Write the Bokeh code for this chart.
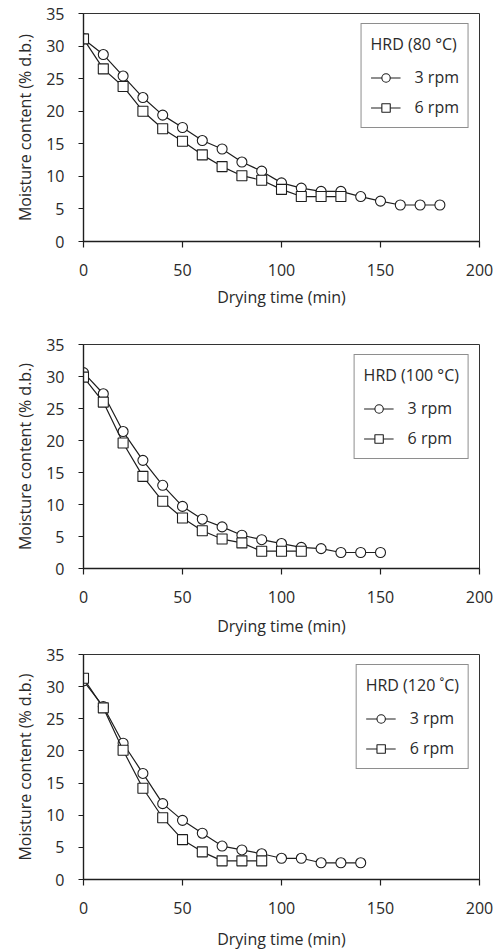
from bokeh.plotting import figure
from bokeh.layouts import column
from bokeh.models import FixedTicker, Range1d, Legend, LegendItem
from bokeh.embed import file_html
from bokeh.resources import INLINE

# ---- data ----
time_80_3 = [0, 10, 20, 30, 40, 50, 60, 70, 80, 90, 100, 110, 120, 130, 140, 150, 160, 170, 180]
mc_80_3 = [31.1, 28.7, 25.4, 22.1, 19.4, 17.5, 15.5, 14.2, 12.2, 10.8, 9.0, 8.2, 7.7, 7.7, 6.9, 6.2, 5.6, 5.6, 5.6]
time_80_6 = [0, 10, 20, 30, 40, 50, 60, 70, 80, 90, 100, 110, 120, 130]
mc_80_6 = [31.1, 26.5, 23.8, 20.0, 17.3, 15.4, 13.3, 11.5, 10.1, 9.4, 8.0, 6.9, 6.9, 6.9]

time_100_3 = [0, 10, 20, 30, 40, 50, 60, 70, 80, 90, 100, 110, 120, 130, 140, 150]
mc_100_3 = [30.6, 27.3, 21.4, 16.9, 13.0, 9.7, 7.7, 6.5, 5.2, 4.5, 3.9, 3.3, 3.1, 2.5, 2.5, 2.5]
time_100_6 = [0, 10, 20, 30, 40, 50, 60, 70, 80, 90, 100, 110]
mc_100_6 = [29.9, 26.0, 19.6, 14.4, 10.5, 7.9, 5.9, 4.6, 4.0, 2.7, 2.7, 2.7]

time_120_3 = [0, 10, 20, 30, 40, 50, 60, 70, 80, 90, 100, 110, 120, 130, 140]
mc_120_3 = [30.9, 26.9, 21.2, 16.5, 11.8, 9.2, 7.2, 5.2, 4.6, 4.0, 3.3, 3.3, 2.6, 2.6, 2.6]
time_120_6 = [0, 10, 20, 30, 40, 50, 60, 70, 80, 90]
mc_120_6 = [31.3, 26.7, 20.1, 14.2, 9.6, 6.2, 4.3, 2.9, 2.9, 2.9]

x_ticks = [0, 50, 100, 150, 200]
y_ticks = [0, 5, 10, 15, 20, 25, 30, 35]
series_labels = ["3 rpm", "6 rpm"]
titles = ["HRD (80 °C)", "HRD (100 °C)", "HRD (120 ˚C)"]
x_label = "Drying time (min)"
y_label = "Moisture content (% d.b.)"

FONT = "Open Sans"
FS = "16px"
INK = "#1e1e1e"


def make_panel(title, t3, m3, t6, m6, height, b_left, b_right, b_top, b_bottom, xlab_standoff):
    p = figure(width=504, height=height, output_backend="svg", toolbar_location=None,
               x_range=Range1d(0, 200), y_range=Range1d(0, 35),
               min_border_left=b_left, min_border_right=b_right,
               min_border_top=b_top, min_border_bottom=b_bottom)
    p.grid.visible = False
    p.outline_line_color = "#333333"
    p.outline_line_width = 1
    p.background_fill_color = "white"
    p.border_fill_color = "white"

    p.xaxis.ticker = FixedTicker(ticks=x_ticks)
    p.yaxis.ticker = FixedTicker(ticks=y_ticks)
    for ax in (p.xaxis[0], p.yaxis[0]):
        ax.axis_line_color = INK
        ax.axis_line_width = 1.4
        ax.major_tick_line_color = INK
        ax.major_tick_line_width = 1.2
        ax.major_tick_in = 0
        ax.minor_tick_line_color = None
        ax.major_label_text_font = FONT
        ax.major_label_text_font_size = FS
        ax.major_label_text_color = "#2a2a2a"
        ax.axis_label_text_font = FONT
        ax.axis_label_text_font_size = FS
        ax.axis_label_text_font_style = "normal"
        ax.axis_label_text_color = "#2a2a2a"
    p.xaxis.major_tick_out = 6
    p.yaxis.major_tick_out = 5
    p.xaxis.major_label_standoff = 16
    p.yaxis.major_label_standoff = 14
    p.xaxis.axis_label = x_label
    p.yaxis.axis_label = y_label
    p.xaxis.axis_label_standoff = xlab_standoff
    p.yaxis.axis_label_standoff = 7

    l3 = p.line(t3, m3, line_color=INK, line_width=1.2)
    s3 = p.scatter(t3, m3, marker="circle", size=10, fill_color="white",
                   line_color=INK, line_width=1.1)
    l6 = p.line(t6, m6, line_color=INK, line_width=1.2)
    s6 = p.scatter(t6, m6, marker="square", size=10, fill_color="white",
                   line_color=INK, line_width=1.1)

    legend = Legend(items=[LegendItem(label=series_labels[0], renderers=[l3, s3]),
                           LegendItem(label=series_labels[1], renderers=[l6, s6])],
                    title=title, location="top_right")
    legend.margin = 10
    legend.padding = 9
    legend.spacing = 8
    legend.glyph_width = 30
    legend.glyph_height = 21
    legend.label_standoff = 14
    legend.title_standoff = 11
    legend.label_text_font = FONT
    legend.label_text_font_size = FS
    legend.label_text_color = "#2a2a2a"
    legend.title_text_font = FONT
    legend.title_text_font_size = FS
    legend.title_text_font_style = "normal"
    legend.title_text_color = "#2a2a2a"
    legend.border_line_color = INK
    legend.border_line_width = 1.2
    legend.background_fill_color = "white"
    legend.background_fill_alpha = 1.0
    p.add_layout(legend)
    return p


p1 = make_panel(titles[0], time_80_3, mc_80_3, time_80_6, mc_80_6,
                height=320, b_left=83, b_right=25, b_top=13, b_bottom=79, xlab_standoff=7)
p2 = make_panel(titles[1], time_100_3, mc_100_3, time_100_6, mc_100_6,
                height=319, b_left=83, b_right=25, b_top=24, b_bottom=71, xlab_standoff=9)
p3 = make_panel(titles[2], time_120_3, mc_120_3, time_120_6, mc_120_6,
                height=313, b_left=83, b_right=25, b_top=15, b_bottom=73, xlab_standoff=11)

layout = column(p1, p2, p3, spacing=0)
open("out.html", "w").write(file_html(layout, INLINE))
